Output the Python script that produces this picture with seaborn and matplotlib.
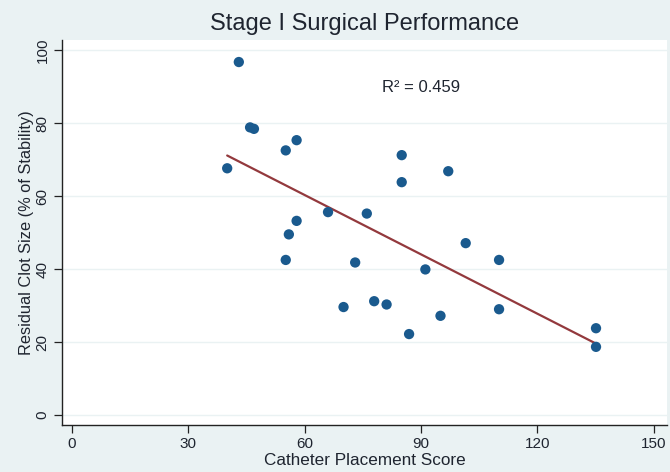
import matplotlib
matplotlib.use("Agg")
import matplotlib.pyplot as plt
import seaborn as sns
import numpy as np
import pandas as pd

# Data
placement_score = [40.0, 43.0, 45.9, 46.9, 55.1, 57.9, 85.0, 85.0, 97.0, 66.0,
                   76.0, 57.9, 55.9, 55.1, 73.0, 101.5, 110.1, 91.1, 70.0, 77.9,
                   81.1, 95.0, 110.1, 86.9, 135.1, 135.1]
clot_size = [67.6, 96.7, 78.8, 78.4, 72.5, 75.3, 71.2, 63.8, 66.8, 55.6,
             55.2, 53.2, 49.5, 42.5, 41.8, 47.1, 42.5, 39.9, 29.6, 31.2,
             30.3, 27.2, 29.0, 22.2, 23.8, 18.7]
x_ticks = [0, 30, 60, 90, 120, 150]
y_ticks = [0, 20, 40, 60, 80, 100]
title = "Stage I Surgical Performance"
x_label = "Catheter Placement Score"
y_label = "Residual Clot Size (% of Stability)"
r2_label = "R² = 0.459"

df = pd.DataFrame({"score": placement_score, "clot": clot_size})

sns.set_style("white")
plt.rcParams["font.family"] = ["Liberation Sans", "DejaVu Sans"]

bg = "#eaf2f3"
txt = "#1f2530"
fig = plt.figure(figsize=(6.7, 4.72), dpi=100, facecolor=bg)
ax = fig.add_axes([0.0925, 0.0996, 0.903, 0.8154])
ax.set_facecolor("white")

for yt in y_ticks:
    ax.axhline(yt, color="#eaf2f3", lw=1.0, zorder=0)

sns.regplot(data=df, x="score", y="clot", ax=ax, ci=None, truncate=True,
            scatter_kws=dict(s=55, color="#1a5a8e", alpha=1, edgecolor="none", zorder=3),
            line_kws=dict(color="#93393d", lw=1.6, zorder=2))

ax.set_xlim(-2.6, 153.4)
ax.set_ylim(-2.7, 102.7)
ax.set_xticks(x_ticks)
ax.set_yticks(y_ticks)
ax.set_yticklabels([str(v) for v in y_ticks], rotation=90, va="center")
ax.tick_params(axis="both", direction="out", length=6, width=0.9, color="#222222",
               labelsize=11, labelcolor=txt, pad=3, left=True, bottom=True)

for s in ["top", "right"]:
    ax.spines[s].set_visible(False)
for s in ["left", "bottom"]:
    ax.spines[s].set_color("#222222")
    ax.spines[s].set_linewidth(1.0)

ax.set_xlabel(x_label, fontsize=12.3, color=txt, labelpad=1)
ax.set_ylabel(y_label, fontsize=11.8, color=txt, labelpad=1)
ax.set_title(title, fontsize=17, color=txt, pad=7)

ax.text(80, 89.6, r2_label, fontsize=12, color=txt, ha="left", va="center")

fig.savefig("out.png", dpi=100, facecolor=bg)
